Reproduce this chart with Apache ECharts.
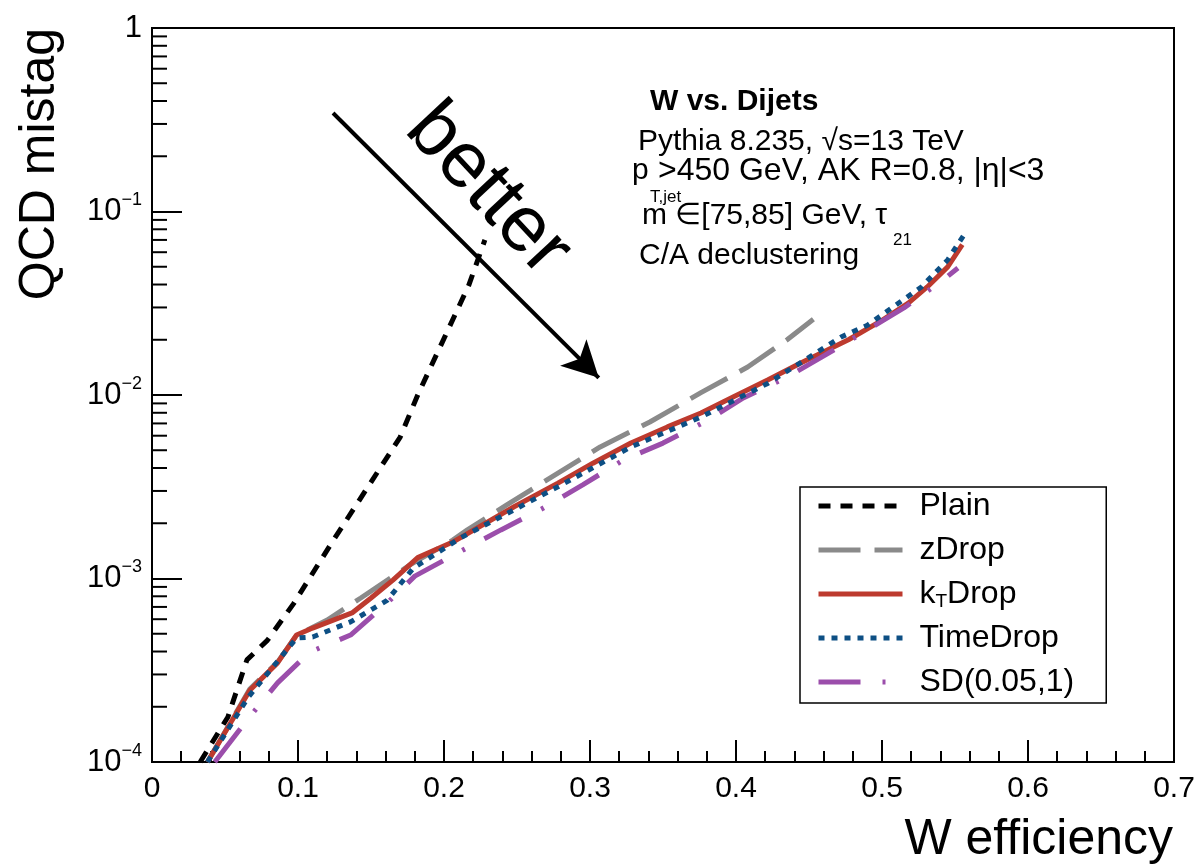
<!DOCTYPE html>
<html>
<head>
<meta charset="utf-8">
<script src="https://cdn.jsdelivr.net/npm/echarts@6/dist/echarts.min.js"></script>
<style>html,body{margin:0;padding:0;background:#fff;}#c{width:1198px;height:864px;}</style>
</head>
<body>
<div id="c"></div>
<script>
// ---- data ----
const seriesNames = ['Plain', 'zDrop', 'kTDrop', 'TimeDrop', 'SD(0.05,1)'];

const plainX = [0.033, 0.052, 0.065, 0.079, 0.097, 0.123, 0.170, 0.182, 0.217, 0.228];
const plainY = [1.0e-4, 1.76e-4, 3.6e-4, 4.6e-4, 7.3e-4, 1.56e-3, 5.9e-3, 1.0e-2, 3.97e-2, 7.0e-2];

const zDropX = [0.038, 0.067, 0.086, 0.099, 0.120, 0.143, 0.177, 0.206, 0.216, 0.243, 0.307, 0.341, 0.376, 0.408, 0.435, 0.453];
const zDropY = [1.0e-4, 2.5e-4, 3.5e-4, 4.9e-4, 5.94e-4, 7.83e-4, 1.19e-3, 1.62e-3, 1.84e-3, 2.52e-3, 5.21e-3, 7.13e-3, 1.03e-2, 1.42e-2, 2.0e-2, 2.59e-2];

const ktDropX = [0.038, 0.067, 0.086, 0.099, 0.110, 0.137, 0.150, 0.165, 0.182, 0.206, 0.248, 0.278, 0.302, 0.328, 0.353, 0.376, 0.398, 0.422, 0.444, 0.477, 0.500, 0.518, 0.531, 0.545, 0.555];
const ktDropY = [1.0e-4, 2.46e-4, 3.47e-4, 4.92e-4, 5.37e-4, 6.49e-4, 7.83e-4, 9.8e-4, 1.30e-3, 1.58e-3, 2.46e-3, 3.31e-3, 4.25e-3, 5.47e-3, 6.70e-3, 7.98e-3, 9.75e-3, 1.21e-2, 1.49e-2, 2.0e-2, 2.55e-2, 3.17e-2, 3.88e-2, 4.99e-2, 6.6e-2];

const timeDropX = [0.038, 0.066, 0.099, 0.110, 0.136, 0.161, 0.179, 0.202, 0.211, 0.278, 0.328, 0.376, 0.422, 0.472, 0.490, 0.527, 0.545, 0.557];
const timeDropY = [1.0e-4, 2.26e-4, 4.74e-4, 4.8e-4, 5.8e-4, 7.6e-4, 1.14e-3, 1.49e-3, 1.66e-3, 3.16e-3, 5.21e-3, 7.59e-3, 1.16e-2, 2.07e-2, 2.4e-2, 3.88e-2, 5.45e-2, 7.64e-2];

const sdX = [0.043, 0.065, 0.086, 0.108, 0.136, 0.161, 0.180, 0.213, 0.239, 0.268, 0.295, 0.323, 0.350, 0.381, 0.405, 0.435, 0.461, 0.490, 0.515, 0.542, 0.552];
const sdY = [1.0e-4, 1.69e-4, 2.70e-4, 3.97e-4, 4.92e-4, 7.34e-4, 1.03e-3, 1.43e-3, 1.84e-3, 2.42e-3, 3.24e-3, 4.43e-3, 5.47e-3, 7.31e-3, 9.64e-3, 1.25e-2, 1.65e-2, 2.26e-2, 2.98e-2, 4.24e-2, 4.92e-2];

// axis ticks
const xTickLabels = ['0', '0.1', '0.2', '0.3', '0.4', '0.5', '0.6', '0.7'];
const yDecades = [1e-4, 1e-3, 1e-2, 1e-1];
const yMinorMultipliers = [2, 3, 4, 5, 6, 7, 8, 9];

// arrow annotation (data coordinates)
const arrowStart = [0.124, 0.344];
const arrowEnd = [0.306, 0.0124];

// ---- build ----
function pairs(xs, ys) { return xs.map((x, i) => [x, ys[i]]); }
const yMinor = [];
yDecades.forEach(d => yMinorMultipliers.forEach(m => yMinor.push([0, d * m])));

const FONT = '"Liberation Sans", Arial, Helvetica, sans-serif';
const chart = echarts.init(document.getElementById('c'));

const lineBase = { type: 'line', showSymbol: false, symbol: 'none', smooth: false, clip: true };

const option = {
  backgroundColor: '#ffffff',
  animation: false,
  textStyle: { fontFamily: FONT },
  grid: { left: 152, right: 24, top: 28, bottom: 102, show: true, borderColor: '#000', borderWidth: 2, backgroundColor: 'transparent' },
  xAxis: {
    type: 'value', min: 0, max: 0.7, interval: 0.1,
    axisLine: { lineStyle: { color: '#000', width: 2 } },
    axisTick: { inside: true, length: 22, lineStyle: { color: '#000', width: 2 } },
    minorTick: { show: true, splitNumber: 5, length: 11, lineStyle: { color: '#000', width: 2 } },
    splitLine: { show: false },
    axisLabel: {
      color: '#000', fontSize: 30, fontFamily: FONT, margin: 12,
      formatter: v => xTickLabels[Math.round(v * 10)]
    }
  },
  yAxis: {
    type: 'log', logBase: 10, min: 1e-4, max: 1,
    axisLine: { lineStyle: { color: '#000', width: 2 } },
    axisTick: { inside: true, length: 30, lineStyle: { color: '#000', width: 2 } },
    splitLine: { show: false },
    axisLabel: {
      color: '#000', fontFamily: FONT, margin: 10,
      formatter: v => {
        const k = Math.round(-Math.log10(v));
        if (k === 0) return '{n|1}';
        return '{n|10}{sup|\u2212' + k + '}';
      },
      rich: {
        n: { fontSize: 31, lineHeight: 40, fontFamily: FONT, color: '#000' },
        sup: { fontSize: 18, lineHeight: 16, verticalAlign: 'top', fontFamily: FONT, color: '#000' }
      }
    }
  },
  legend: {
    data: seriesNames,
    orient: 'vertical',
    left: 800, top: 487,
    backgroundColor: '#fff',
    borderColor: '#000', borderWidth: 1.5,
    padding: [2, 32, 4, 16],
    itemWidth: 84, itemHeight: 20, itemGap: 10,
    itemStyle: { opacity: 0 },
    lineStyle: { width: 5 },
    textStyle: {
      fontSize: 32, lineHeight: 34, color: '#000', fontFamily: FONT, padding: [0, 0, 0, 12],
      rich: {
        n: { fontSize: 32, lineHeight: 34, fontFamily: FONT, color: '#000' },
        sub: { fontSize: 19, lineHeight: 14, verticalAlign: 'bottom', fontFamily: FONT, color: '#000' }
      }
    },
    formatter: name => name === 'kTDrop' ? '{n|k}{sub|T}{n|Drop}' : name
  },
  series: [
    Object.assign({}, lineBase, {
      name: 'Plain', data: pairs(plainX, plainY), z: 3,
      itemStyle: { color: '#000' },
      lineStyle: { color: '#000', width: 5, type: [12, 10] }
    }),
    Object.assign({}, lineBase, {
      name: 'zDrop', data: pairs(zDropX, zDropY), z: 3,
      itemStyle: { color: '#8a8a8a' },
      lineStyle: { color: '#8a8a8a', width: 5, type: [42, 14] }
    }),
    Object.assign({}, lineBase, {
      name: 'kTDrop', data: pairs(ktDropX, ktDropY), z: 4,
      itemStyle: { color: '#bd3a2e' },
      lineStyle: { color: '#bd3a2e', width: 5, type: 'solid' }
    }),
    Object.assign({}, lineBase, {
      name: 'TimeDrop', data: pairs(timeDropX, timeDropY), z: 5,
      itemStyle: { color: '#0d4f84' },
      lineStyle: { color: '#0d4f84', width: 5, type: [6, 7] }
    }),
    Object.assign({}, lineBase, {
      name: 'SD(0.05,1)', data: pairs(sdX, sdY), z: 4,
      itemStyle: { color: '#9b4eab' },
      lineStyle: { color: '#9b4eab', width: 5, type: [42, 22, 3, 22] }
    }),
    {
      name: 'yMinorTicks', type: 'custom', silent: true, z: 10, clip: false,
      data: yMinor,
      encode: { x: 0, y: 1 },
      renderItem: (params, api) => {
        const p = api.coord([api.value(0), api.value(1)]);
        return { type: 'line', shape: { x1: p[0], y1: p[1], x2: p[0] + 15, y2: p[1] }, style: { stroke: '#000', lineWidth: 2 } };
      },
      markLine: {
        silent: true, symbol: ['none', 'arrow'], symbolSize: [28, 36],
        lineStyle: { color: '#000', width: 4, type: 'solid' },
        label: { show: false },
        data: [[{ coord: arrowStart }, { coord: arrowEnd }]]
      }
    }
  ],
  graphic: [
    { type: 'text', x: 488, y: 190, rotation: -0.82, style: { text: 'better', font: '79px ' + FONT, fill: '#000', textAlign: 'center', textVerticalAlign: 'middle' } },
    { type: 'text', x: 650, y: 102, style: { text: 'W vs. Dijets', font: 'bold 30px ' + FONT, fill: '#000', textAlign: 'left', textVerticalAlign: 'middle' } },
    { type: 'text', x: 638, y: 142, style: { text: 'Pythia 8.235, \u221As=13 TeV', font: '30px ' + FONT, fill: '#000', textAlign: 'left', textVerticalAlign: 'middle' } },
    { type: 'text', x: 632, y: 171, style: { text: 'p', font: '30px ' + FONT, fill: '#000', textAlign: 'left', textVerticalAlign: 'middle' } },
    { type: 'text', x: 650, y: 197, style: { text: 'T,jet', font: '17px ' + FONT, fill: '#000', textAlign: 'left', textVerticalAlign: 'middle' } },
    { type: 'text', x: 658, y: 171, style: { text: '>450 GeV, AK R=0.8, |\u03B7|<3', font: '32px ' + FONT, fill: '#000', textAlign: 'left', textVerticalAlign: 'middle' } },
    { type: 'text', x: 642, y: 216, style: { text: 'm \u2208[75,85] GeV, \u03C4', font: '30px ' + FONT, fill: '#000', textAlign: 'left', textVerticalAlign: 'middle' } },
    { type: 'text', x: 893, y: 240, style: { text: '21', font: '17px ' + FONT, fill: '#000', textAlign: 'left', textVerticalAlign: 'middle' } },
    { type: 'text', x: 639, y: 256, style: { text: 'C/A declustering', font: '30px ' + FONT, fill: '#000', textAlign: 'left', textVerticalAlign: 'middle' } },
    { type: 'text', x: 1173, y: 840, style: { text: 'W efficiency', font: '50px ' + FONT, fill: '#000', textAlign: 'right', textVerticalAlign: 'middle' } },
    { type: 'text', x: 40, y: 28, rotation: Math.PI / 2, style: { text: 'QCD mistag', font: '50px ' + FONT, fill: '#000', textAlign: 'right', textVerticalAlign: 'middle' } }
  ]
};
chart.setOption(option);
</script>
</body>
</html>
